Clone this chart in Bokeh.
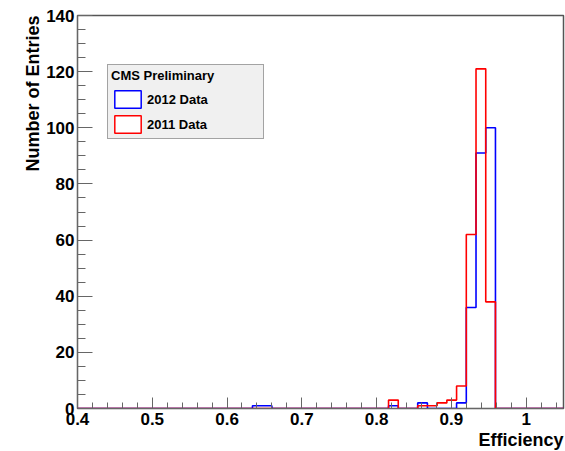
import numpy as np
from bokeh.plotting import figure
from bokeh.models import (Legend, LegendItem, Title, FixedTicker, CustomJSTickFormatter,
                          ColumnDataSource, Range1d)
from bokeh.embed import file_html
from bokeh.resources import INLINE

# ---- data ----
x_min, x_max, n_bins = 0.4, 1.05, 50
counts_2012 = [0] * 50
counts_2011 = [0] * 50
# non-empty bins (bin index -> entries)
bins_2012 = {18: 1, 19: 1, 32: 1, 35: 2, 39: 2, 40: 36, 41: 91, 42: 100}
bins_2011 = {32: 3, 35: 1, 36: 1, 37: 2, 38: 3, 39: 8, 40: 62, 41: 121, 42: 38}
for k, v in bins_2012.items():
    counts_2012[k] = v
for k, v in bins_2011.items():
    counts_2011[k] = v

x_ticks = [0.4, 0.5, 0.6, 0.7, 0.8, 0.9, 1.0]
y_ticks = [0, 20, 40, 60, 80, 100, 120, 140]

edges = np.linspace(x_min, x_max, n_bins + 1)

FONT = "Liberation Sans"

p = figure(width=565, height=451, output_backend="svg", toolbar_location=None,
           x_range=Range1d(x_min, x_max), y_range=Range1d(0, 140),
           min_border_left=77, min_border_right=2, min_border_top=15, min_border_bottom=43)
p.background_fill_color = "white"
p.border_fill_color = "white"
p.outline_line_color = "#555555"
p.outline_line_width = 1.5
p.grid.visible = False

def step_y(c):
    return list(c) + [c[-1]]

src_b = ColumnDataSource(dict(x=edges, y=step_y(counts_2012)))
src_r = ColumnDataSource(dict(x=edges, y=step_y(counts_2011)))
p.step("x", "y", source=src_b, mode="after", line_color="#0000ff", line_width=1.6)
p.step("x", "y", source=src_r, mode="after", line_color="#ff0000", line_width=1.6)

# legend swatches (quads with no drawable geometry)
nan = float("nan")
q_b = p.quad(left=[nan], right=[nan], top=[nan], bottom=[nan],
             fill_color="white", line_color="#0000ff", line_width=1.5)
q_r = p.quad(left=[nan], right=[nan], top=[nan], bottom=[nan],
             fill_color="white", line_color="#ff0000", line_width=1.5)

legend = Legend(items=[LegendItem(label="2012 Data", renderers=[q_b]),
                       LegendItem(label="2011 Data", renderers=[q_r])],
                location=(30, 269), title="CMS Preliminary",
                title_text_font=FONT, title_text_font_style="bold", title_text_font_size="13px",
                label_text_font=FONT, label_text_font_style="bold", label_text_font_size="13px",
                label_text_color="black", title_text_color="black",
                glyph_width=33, glyph_height=22, label_height=22, label_width=113,
                label_standoff=3, spacing=3, padding=3, margin=0, title_standoff=5,
                background_fill_color="#f0f0f0", background_fill_alpha=1,
                border_line_color="#555555", border_line_width=1)
p.add_layout(legend, "center")

# axes
xa = p.xaxis[0]
xa.ticker = FixedTicker(ticks=x_ticks,
                        minor_ticks=list(np.round(np.arange(0.4, 1.0501, 0.02), 3)))
xa.formatter = CustomJSTickFormatter(code="return String(Math.round(tick*10)/10);")
ya = p.yaxis[0]
ya.ticker = FixedTicker(ticks=y_ticks, minor_ticks=list(range(0, 141, 5)))
for ax in (xa, ya):
    ax.axis_line_color = "#666666"
    ax.major_tick_line_color = "#666666"
    ax.minor_tick_line_color = "#666666"
    ax.major_label_text_font = FONT
    ax.major_label_text_font_style = "bold"
    ax.major_label_text_font_size = "17px"
    ax.major_label_text_color = "black"
    ax.major_tick_out = 0
    ax.minor_tick_out = 0
xa.major_tick_in = 11
xa.minor_tick_in = 6
xa.major_label_standoff = 4
ya.major_tick_in = 15
ya.minor_tick_in = 8
ya.major_label_standoff = 3

p.add_layout(Title(text="Number of Entries", align="right", standoff=2,
                   text_font=FONT, text_font_style="bold", text_font_size="18px",
                   text_color="black"), "left")
p.add_layout(Title(text="Efficiency", align="right", standoff=0,
                   text_font=FONT, text_font_style="bold", text_font_size="18px",
                   text_color="black"), "below")

open("out.html", "w").write(file_html(p, INLINE))
